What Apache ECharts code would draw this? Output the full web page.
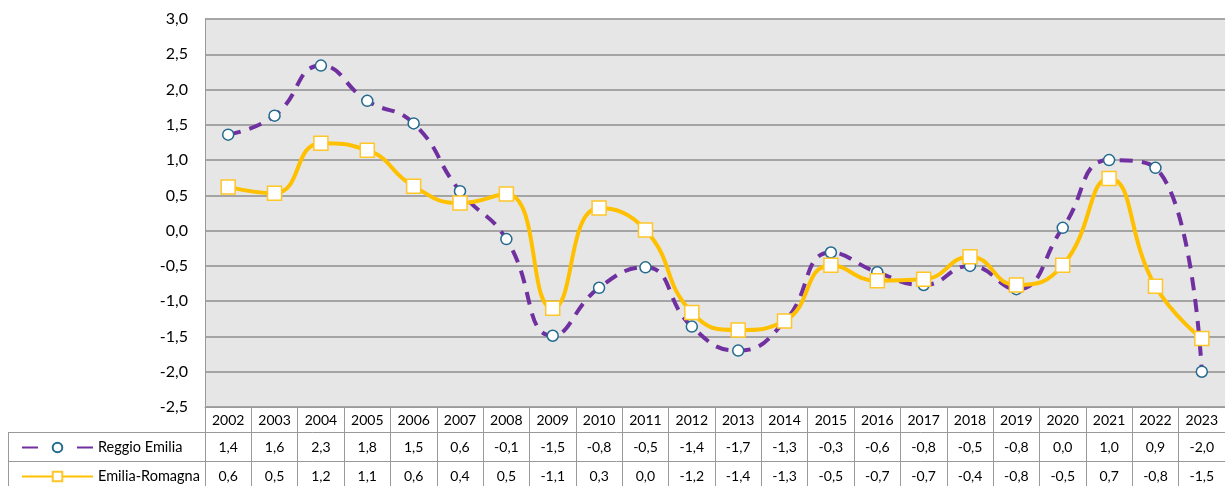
<!DOCTYPE html>
<html>
<head>
<meta charset="utf-8">
<script src="https://cdn.jsdelivr.net/npm/echarts@6/dist/echarts.min.js"></script>
<style>
html,body{margin:0;padding:0;background:#fff;}
#chart{width:1225px;height:486px;}
</style>
</head>
<body>
<div id="chart"></div>
<script>
// anni e valori (variazione %)
const years = ['2002','2003','2004','2005','2006','2007','2008','2009','2010','2011','2012',
  '2013','2014','2015','2016','2017','2018','2019','2020','2021','2022','2023'];
const reggio = [1.36, 1.63, 2.34, 1.84, 1.52, 0.56, -0.12, -1.49, -0.81, -0.52, -1.36,
  -1.70, -1.29, -0.31, -0.59, -0.77, -0.50, -0.83, 0.04, 1.00, 0.89, -2.00];
const emilia = [0.62, 0.53, 1.24, 1.14, 0.63, 0.39, 0.52, -1.10, 0.32, 0.01, -1.16,
  -1.41, -1.28, -0.49, -0.71, -0.69, -0.37, -0.77, -0.49, 0.74, -0.79, -1.53];
const names = ['Reggio Emilia', 'Emilia-Romagna'];

const font = 'Lato';
const border = '#9a9a9a';

function fmt(v){
  let s = (Math.round(v * 10) / 10).toFixed(1);
  if (s === '-0.0') s = '0.0';
  return s.replace('.', ',');
}

const chart = echarts.init(document.getElementById('chart'), null, {renderer: 'canvas'});
chart.setOption({
  animation: false,
  textStyle: {fontFamily: font},
  grid: {
    left: 205,
    right: 0,
    top: 19,
    bottom: 79,
    show: true,
    backgroundColor: '#e6e6e6',
    borderWidth: 0
  },
  legend: [
    {
      data: [names[0]],
      left: 16,
      top: 435,
      itemWidth: 71,
      itemHeight: 12,
      lineStyle: {type: [16, 39]},
      textStyle: {fontFamily: font, fontSize: 14.5, color: '#000'}
    },
    {
      data: [names[1]],
      left: 16,
      top: 464,
      itemWidth: 71,
      itemHeight: 12,
      textStyle: {fontFamily: font, fontSize: 14.5, color: '#000'}
    }
  ],
  xAxis: [
    {
      type: 'category',
      data: years,
      position: 'bottom',
      axisLine: {show: true, onZero: false, lineStyle: {color: border, width: 1}},
      axisTick: {show: true, interval: 0, length: 79, lineStyle: {color: border, width: 1}},
      axisLabel: {interval: 0, margin: 13, verticalAlign: 'middle',
        fontFamily: font, fontSize: 14, color: '#000'},
      splitLine: {show: false}
    },
    {
      type: 'category',
      data: years,
      position: 'bottom',
      offset: 25,
      axisLine: {show: false, onZero: false},
      axisTick: {show: false},
      axisLabel: {interval: 0, margin: 15, verticalAlign: 'middle',
        fontFamily: font, fontSize: 14, color: '#000',
        formatter: (v, i) => fmt(reggio[i])}
    },
    {
      type: 'category',
      data: years,
      position: 'bottom',
      offset: 54,
      axisLine: {show: false, onZero: false},
      axisTick: {show: false},
      axisLabel: {interval: 0, margin: 15, verticalAlign: 'middle',
        fontFamily: font, fontSize: 14, color: '#000',
        formatter: (v, i) => fmt(emilia[i])}
    }
  ],
  yAxis: {
    type: 'value',
    min: -2.5,
    max: 3,
    interval: 0.5,
    axisLine: {show: true, lineStyle: {color: border, width: 1}},
    axisTick: {show: false},
    axisLabel: {margin: 17, fontFamily: font, fontSize: 16, color: '#000',
      formatter: v => v.toFixed(1).replace('.', ',')},
    splitLine: {show: true, lineStyle: {color: '#8e8e8e', width: 1.5}}
  },
  graphic: [
    // bordi della tabella dati
    {type: 'line', shape: {x1: 8.5, y1: 432, x2: 8.5, y2: 486}, style: {stroke: border, lineWidth: 1}},
    {type: 'line', shape: {x1: 8, y1: 432.5, x2: 1225, y2: 432.5}, style: {stroke: border, lineWidth: 1}},
    {type: 'line', shape: {x1: 8, y1: 461.5, x2: 1225, y2: 461.5}, style: {stroke: border, lineWidth: 1}}
  ],
  series: [
    {
      name: names[0],
      type: 'line',
      data: reggio,
      smooth: 0.5,
      symbol: 'circle',
      symbolSize: 11,
      lineStyle: {color: '#7030a0', width: 4, type: [13, 9]},
      itemStyle: {color: '#ffffff', borderColor: '#236a8e', borderWidth: 1.5}
    },
    {
      name: names[1],
      type: 'line',
      data: emilia,
      smooth: 0.5,
      symbol: 'rect',
      symbolSize: 14,
      lineStyle: {color: '#ffc000', width: 4},
      itemStyle: {color: '#ffffff', borderColor: '#ffc62a', borderWidth: 1.5}
    }
  ]
});
</script>
</body>
</html>
